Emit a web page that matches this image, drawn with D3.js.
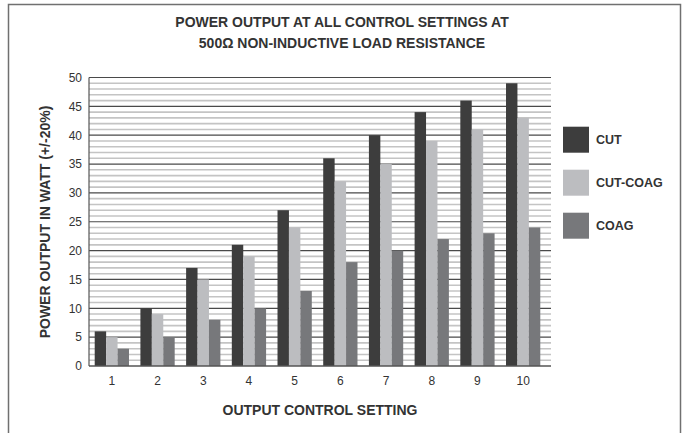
<!DOCTYPE html>
<html>
<head>
<meta charset="utf-8">
<script src="https://cdn.jsdelivr.net/npm/d3@7"></script>
<style>
  body { margin: 0; background: #fff; }
  text { font-family: "Liberation Sans", Arial, sans-serif; fill: #333; }
</style>
</head>
<body>
<div id="chart"></div>
<script>
const settings = ["1", "2", "3", "4", "5", "6", "7", "8", "9", "10"];
const seriesNames = ["CUT", "CUT-COAG", "COAG"];
const cut = [6, 10, 17, 21, 27, 36, 40, 44, 46, 49];
const cutCoag = [5, 9, 15, 19, 24, 32, 35, 39, 41, 43];
const coag = [3, 5, 8, 10, 13, 18, 20, 22, 23, 24];
const yTicks = [0, 5, 10, 15, 20, 25, 30, 35, 40, 45, 50];

const series = [cut, cutCoag, coag];
const colors = ["#3d3d3d", "#bcbdc0", "#77787b"];

const W = 684, H = 433;
const svg = d3.select("#chart").append("svg")
  .attr("width", W).attr("height", H);

// outer frame (bottom runs off the picture)
svg.append("rect")
  .attr("x", 8.5).attr("y", 4.5)
  .attr("width", 672).attr("height", 440)
  .attr("fill", "none").attr("stroke", "#707070").attr("stroke-width", 1.5);

const x0 = d3.scaleBand().domain(settings).range([89, 546])
  .paddingInner(0.25).paddingOuter(0.125);
const x1 = d3.scaleBand().domain(seriesNames).range([0, x0.bandwidth()]);
const y = d3.scaleLinear().domain([0, 50]).range([366, 77.5]);

// minor grid every 1 unit
const minor = d3.range(0, 51).filter(v => v % 5 !== 0);
svg.append("g").selectAll("line").data(minor).enter().append("line")
  .attr("x1", 89).attr("x2", 551)
  .attr("y1", d => y(d)).attr("y2", d => y(d))
  .attr("stroke", "#c4c4c4").attr("stroke-width", 1.6);

// major grid
svg.append("g").selectAll("line").data(yTicks.filter(v => v > 0)).enter().append("line")
  .attr("x1", 89).attr("x2", 551)
  .attr("y1", d => y(d)).attr("y2", d => y(d))
  .attr("stroke", "#4a4a4a").attr("stroke-width", 1.2);

// bars
const groups = svg.append("g").selectAll("g").data(settings).enter().append("g")
  .attr("transform", d => "translate(" + x0(d) + ",0)");
groups.selectAll("rect")
  .data((d, i) => seriesNames.map((s, j) => ({ s: s, v: series[j][i], c: colors[j] })))
  .enter().append("rect")
    .attr("x", d => x1(d.s))
    .attr("width", x1.bandwidth())
    .attr("y", d => y(d.v))
    .attr("height", d => y(0) - y(d.v))
    .attr("fill", d => d.c);

// axes lines
svg.append("line").attr("x1", 89).attr("x2", 89).attr("y1", 77.5).attr("y2", 366)
  .attr("stroke", "#555").attr("stroke-width", 1.2);
svg.append("line").attr("x1", 89).attr("x2", 551).attr("y1", 366).attr("y2", 366)
  .attr("stroke", "#555").attr("stroke-width", 1.5);

// y axis
const yAxis = svg.append("g").attr("transform", "translate(89,0)")
  .call(d3.axisLeft(y).tickValues(yTicks).tickSize(0).tickPadding(7));
yAxis.select(".domain").remove();
yAxis.selectAll("text").style("font-size", "12px").attr("fill", "#333");

// x axis
const xAxis = svg.append("g").attr("transform", "translate(0,366)")
  .call(d3.axisBottom(x0).tickSize(0).tickPadding(10));
xAxis.select(".domain").remove();
xAxis.selectAll("text").style("font-size", "12px").attr("fill", "#333");

// titles
svg.append("text").attr("x", 342).attr("y", 27).attr("text-anchor", "middle")
  .style("font-size", "14px").style("font-weight", "bold")
  .text("POWER OUTPUT AT ALL CONTROL SETTINGS AT");
svg.append("text").attr("x", 342).attr("y", 48).attr("text-anchor", "middle")
  .style("font-size", "14px").style("font-weight", "bold")
  .text("500\u03A9 NON-INDUCTIVE LOAD RESISTANCE");

svg.append("text").attr("x", 320).attr("y", 415).attr("text-anchor", "middle")
  .style("font-size", "14px").style("font-weight", "bold")
  .text("OUTPUT CONTROL SETTING");

svg.append("text").attr("transform", "translate(50,222) rotate(-90)")
  .attr("text-anchor", "middle")
  .style("font-size", "14px").style("font-weight", "bold")
  .text("POWER OUTPUT IN WATT (+/-20%)");

// legend
const legend = svg.append("g").selectAll("g").data(seriesNames).enter().append("g")
  .attr("transform", (d, i) => "translate(563," + (126.7 + i * 43) + ")");
legend.append("rect").attr("width", 26).attr("height", 26)
  .attr("fill", (d, i) => colors[i]);
legend.append("text").attr("x", 33).attr("y", 13).attr("dy", "0.35em")
  .style("font-size", "12.5px").style("font-weight", "bold")
  .text(d => d);
</script>
</body>
</html>
